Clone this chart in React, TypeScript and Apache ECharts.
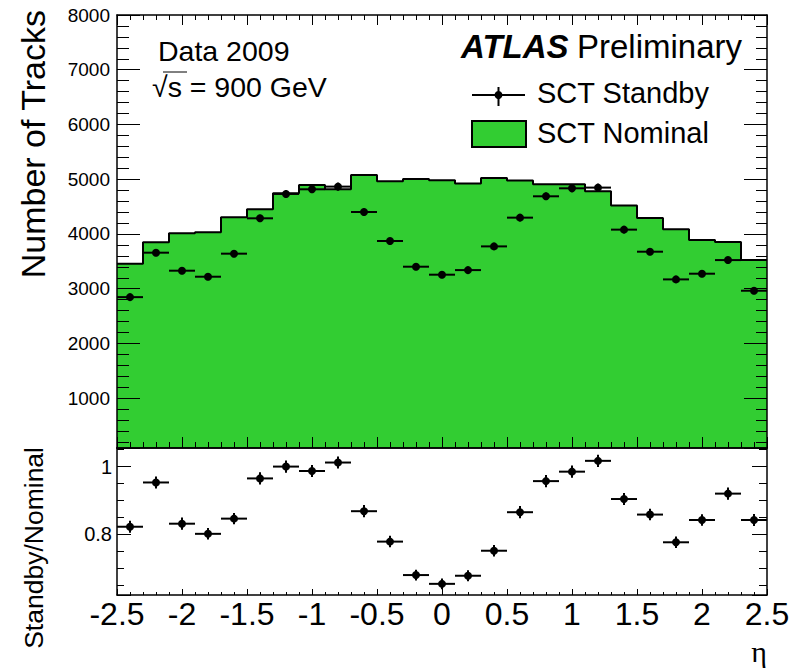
import React, { useEffect, useRef } from "react";
import * as echarts from "echarts";

// eta bin centres (bin width 0.2)
const binCenters = [
  -2.4, -2.2, -2.0, -1.8, -1.6, -1.4, -1.2, -1.0, -0.8, -0.6, -0.4, -0.2, 0.0,
  0.2, 0.4, 0.6, 0.8, 1.0, 1.2, 1.4, 1.6, 1.8, 2.0, 2.2, 2.4,
];
const binWidth = 0.2;

// SCT Nominal (filled histogram)
const nominal = [
  3457, 3847, 4011, 4030, 4304, 4450, 4743, 4896, 4816, 5078, 4963, 5005, 4981,
  4920, 5023, 4975, 4908, 4908, 4780, 4518, 4291, 4085, 3889, 3852, 3523,
];
// SCT Standby (points)
const standby = [
  2846, 3658, 3329, 3219, 3640, 4286, 4731, 4816, 4865, 4401, 3871, 3402, 3256,
  3340, 3773, 4298, 4688, 4834, 4847, 4079, 3676, 3170, 3274, 3523, 2963,
];
const standbyErr = [
  54, 60, 58, 57, 60, 65, 69, 69, 70, 66, 62, 58, 57,
  58, 61, 66, 68, 70, 70, 64, 61, 56, 57, 59, 54,
];
// Standby / Nominal ratio
const ratio = [
  0.822, 0.953, 0.831, 0.801, 0.846, 0.965, 1.0, 0.987, 1.012, 0.868, 0.778,
  0.679, 0.653, 0.677, 0.751, 0.865, 0.957, 0.985, 1.017, 0.904, 0.858, 0.776,
  0.842, 0.92, 0.842,
];
const ratioErr = [
  0.018, 0.018, 0.018, 0.017, 0.017, 0.018, 0.018, 0.018, 0.018, 0.018, 0.017,
  0.016, 0.016, 0.016, 0.017, 0.018, 0.018, 0.018, 0.018, 0.018, 0.017, 0.017,
  0.017, 0.018, 0.018,
];

const xTickLabels = ["-2.5", "-2", "-1.5", "-1", "-0.5", "0", "0.5", "1", "1.5", "2", "2.5"];
const ratioTickLabels = ["0.8", "1"];

const GREEN = "#32cd32";
const FONT = "Liberation Sans";

function pointRenderer(markerR: number) {
  return (params: any, api: any) => {
    const x = api.value(0);
    const y = api.value(1);
    const e = api.value(2);
    const c = api.coord([x, y]);
    const lo = api.coord([x, y - e]);
    const hi = api.coord([x, y + e]);
    const w = api.size([binWidth, 0])[0];
    return {
      type: "group",
      children: [
        {
          type: "line",
          shape: { x1: c[0] - w / 2, y1: c[1], x2: c[0] + w / 2, y2: c[1] },
          style: { stroke: "#000", lineWidth: 2 },
        },
        {
          type: "line",
          shape: { x1: c[0], y1: lo[1], x2: c[0], y2: hi[1] },
          style: { stroke: "#000", lineWidth: 2 },
        },
        {
          type: "circle",
          shape: { cx: c[0], cy: c[1], r: markerR },
          style: { fill: "#000" },
        },
      ],
    };
  };
}

const frameLine = { color: "#000", width: 1.5 };
const tickLine = { color: "#000", width: 1 };

function xAxisCfg(gridIndex: number, position: string, major: number, minor: number, showLabel: boolean) {
  return {
    type: "value",
    gridIndex,
    position,
    min: -2.5,
    max: 2.5,
    interval: 0.5,
    z: 5,
    axisLine: { show: true, onZero: false, lineStyle: frameLine },
    axisTick: { show: major > 0, inside: true, length: major, lineStyle: tickLine },
    minorTick: { show: minor > 0, splitNumber: 5, length: minor, lineStyle: tickLine },
    splitLine: { show: false },
    minorSplitLine: { show: false },
    axisLabel: showLabel
      ? {
          show: true,
          margin: 3,
          color: "#000",
          fontSize: 32,
          fontFamily: FONT,
          showMinLabel: true,
          showMaxLabel: true,
          formatter: (v: number) => {
            const i = Math.round((v + 2.5) / 0.5);
            return xTickLabels[i] ?? "";
          },
        }
      : { show: false },
  };
}

export default function App() {
  const ref = useRef<HTMLDivElement>(null);

  useEffect(() => {
    document.body.style.margin = "0";
    document.body.style.background = "#fff";
    const chart = echarts.init(ref.current!, null, { renderer: "svg" });

    const edges = binCenters.map((c) => c - binWidth / 2);
    const stepData: number[][] = edges.map((e, i) => [e, nominal[i]]);
    stepData.push([binCenters[binCenters.length - 1] + binWidth / 2, nominal[nominal.length - 1]]);

    const standbyData = binCenters.map((c, i) => [c, standby[i], standbyErr[i]]);
    const ratioData = binCenters.map((c, i) => [c, ratio[i], ratioErr[i]]);

    const option: any = {
      animation: false,
      backgroundColor: "#fff",
      grid: [
        { left: 117, top: 15, width: 650, height: 433 },
        { left: 117, top: 448, width: 650, height: 147 },
      ],
      xAxis: [
        xAxisCfg(0, "bottom", 11, 6, false),
        xAxisCfg(0, "top", 10, 5, false),
        xAxisCfg(1, "bottom", 6, 3, true),
        xAxisCfg(1, "top", 0, 0, false),
      ],
      yAxis: [
        {
          type: "value",
          gridIndex: 0,
          position: "left",
          min: 90,
          max: 8000,
          splitNumber: 8,
          minInterval: 1000,
          maxInterval: 1000,
          z: 5,
          axisLine: { show: true, onZero: false, lineStyle: frameLine },
          axisTick: { show: true, inside: true, length: 23, lineStyle: tickLine },
          minorTick: { show: true, splitNumber: 5, length: 12, lineStyle: tickLine },
          splitLine: { show: false },
          axisLabel: {
            show: true,
            margin: 7,
            color: "#000",
            fontSize: 19,
            fontFamily: FONT,
            formatter: (v: number) => (v >= 1000 && Math.abs(v % 1000) < 1e-6 ? String(v) : ""),
          },
        },
        {
          type: "value",
          gridIndex: 0,
          position: "right",
          min: 90,
          max: 8000,
          splitNumber: 8,
          minInterval: 1000,
          maxInterval: 1000,
          z: 5,
          axisLine: { show: true, onZero: false, lineStyle: frameLine },
          axisTick: { show: true, inside: true, length: 23, lineStyle: tickLine },
          minorTick: { show: true, splitNumber: 5, length: 11, lineStyle: tickLine },
          splitLine: { show: false },
          axisLabel: { show: false },
        },
        {
          type: "value",
          gridIndex: 1,
          position: "left",
          min: 0.62,
          max: 1.055,
          splitNumber: 2,
          minInterval: 0.2,
          maxInterval: 0.2,
          z: 5,
          axisLine: { show: true, onZero: false, lineStyle: frameLine },
          axisTick: { show: true, inside: true, length: 14, lineStyle: tickLine },
          minorTick: { show: true, splitNumber: 4, length: 7, lineStyle: tickLine },
          splitLine: { show: false },
          axisLabel: {
            show: true,
            margin: 5,
            color: "#000",
            fontSize: 20,
            fontFamily: FONT,
            formatter: (v: number) => {
              if (Math.abs(v - 0.8) < 1e-6) return ratioTickLabels[0];
              if (Math.abs(v - 1) < 1e-6) return ratioTickLabels[1];
              return "";
            },
          },
        },
        {
          type: "value",
          gridIndex: 1,
          position: "right",
          min: 0.62,
          max: 1.055,
          splitNumber: 2,
          minInterval: 0.2,
          maxInterval: 0.2,
          z: 5,
          axisLine: { show: true, onZero: false, lineStyle: frameLine },
          axisTick: { show: true, inside: true, length: 15, lineStyle: tickLine },
          minorTick: { show: true, splitNumber: 4, length: 8, lineStyle: tickLine },
          splitLine: { show: false },
          axisLabel: { show: false },
        },
      ],
      series: [
        {
          name: "SCT Nominal",
          type: "line",
          xAxisIndex: 0,
          yAxisIndex: 0,
          step: "end",
          data: stepData,
          symbol: "none",
          lineStyle: { color: "#000", width: 2 },
          areaStyle: { color: GREEN, opacity: 1, origin: "start" },
          z: 2,
        },
        {
          name: "SCT Standby",
          type: "custom",
          xAxisIndex: 0,
          yAxisIndex: 0,
          data: standbyData,
          renderItem: pointRenderer(4),
          z: 3,
        },
        {
          name: "Standby/Nominal",
          type: "custom",
          xAxisIndex: 2,
          yAxisIndex: 2,
          data: ratioData,
          renderItem: pointRenderer(4),
          z: 3,
        },
      ],
      graphic: [
        {
          type: "text",
          x: 33,
          y: 10,
          rotation: Math.PI / 2,
          style: {
            text: "Number of Tracks",
            fontSize: 34,
            fontFamily: FONT,
            fill: "#000",
            align: "right",
            verticalAlign: "middle",
          },
        },
        {
          type: "text",
          x: 34,
          y: 447,
          rotation: Math.PI / 2,
          style: {
            text: "Standby/Nominal",
            fontSize: 26.5,
            fontFamily: FONT,
            fill: "#000",
            align: "right",
            verticalAlign: "middle",
          },
        },
        {
          type: "text",
          x: 767,
          y: 651,
          style: {
            text: "η",
            fontSize: 30,
            fontFamily: "Liberation Serif",
            fill: "#000",
            align: "right",
            verticalAlign: "middle",
          },
        },
        {
          type: "text",
          x: 158,
          y: 51,
          style: { text: "Data 2009", fontSize: 28.5, fontFamily: FONT, fill: "#000", align: "left", verticalAlign: "middle" },
        },
        {
          type: "text",
          x: 152,
          y: 87,
          style: { text: "√s = 900 GeV", fontSize: 28.5, fontFamily: FONT, fill: "#000", align: "left", verticalAlign: "middle" },
        },
        {
          type: "line",
          shape: { x1: 163, y1: 72, x2: 187, y2: 72 },
          style: { stroke: "#000", lineWidth: 1 },
        },
        {
          type: "text",
          x: 461,
          y: 46,
          style: {
            text: "ATLAS",
            fontSize: 33,
            fontWeight: "bold",
            fontStyle: "italic",
            fontFamily: FONT,
            fill: "#000",
            align: "left",
            verticalAlign: "middle",
          },
        },
        {
          type: "text",
          x: 742,
          y: 46,
          style: { text: "Preliminary", fontSize: 33, fontFamily: FONT, fill: "#000", align: "right", verticalAlign: "middle" },
        },
        {
          type: "line",
          shape: { x1: 472, y1: 95, x2: 525, y2: 95 },
          style: { stroke: "#000", lineWidth: 2 },
        },
        {
          type: "line",
          shape: { x1: 498.5, y1: 87, x2: 498.5, y2: 106 },
          style: { stroke: "#000", lineWidth: 2 },
        },
        {
          type: "circle",
          shape: { cx: 498.5, cy: 95, r: 4 },
          style: { fill: "#000" },
        },
        {
          type: "text",
          x: 537,
          y: 93,
          style: { text: "SCT Standby", fontSize: 29, fontFamily: FONT, fill: "#000", align: "left", verticalAlign: "middle" },
        },
        {
          type: "rect",
          shape: { x: 472, y: 121, width: 54, height: 26 },
          style: { fill: GREEN, stroke: "#000", lineWidth: 2 },
        },
        {
          type: "text",
          x: 537,
          y: 133,
          style: { text: "SCT Nominal", fontSize: 29, fontFamily: FONT, fill: "#000", align: "left", verticalAlign: "middle" },
        },
      ],
    };

    chart.setOption(option);
    return () => chart.dispose();
  }, []);

  return (
    <div
      ref={ref}
      style={{ position: "fixed", left: 0, top: 0, width: 801, height: 668, background: "#fff" }}
    />
  );
}
